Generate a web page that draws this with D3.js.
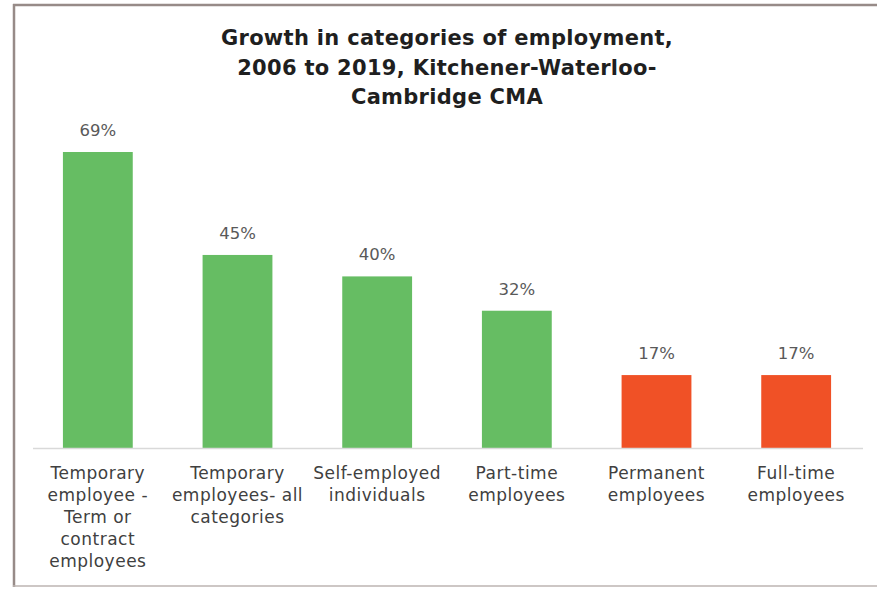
<!DOCTYPE html>
<html>
<head>
<meta charset="utf-8">
<script src="https://cdn.jsdelivr.net/npm/d3@7"></script>
<style>
  body { margin: 0; background: #fff; }
  svg { display: block; }
</style>
</head>
<body>
<svg id="chart"></svg>
<script>
// data
const categories = [
  "Temporary employee - Term or contract employees",
  "Temporary employees- all categories",
  "Self-employed individuals",
  "Part-time employees",
  "Permanent employees",
  "Full-time employees"
];
const labelLines = [
  ["Temporary", "employee -", "Term or", "contract", "employees"],
  ["Temporary", "employees- all", "categories"],
  ["Self-employed", "individuals"],
  ["Part-time", "employees"],
  ["Permanent", "employees"],
  ["Full-time", "employees"]
];
const growth = [69, 45, 40, 32, 17, 17];
const barColors = ["#66bd63", "#66bd63", "#66bd63", "#66bd63", "#f05126", "#f05126"];
const titleLines = [
  "Growth in categories of employment,",
  "2006 to 2019, Kitchener-Waterloo-",
  "Cambridge CMA"
];

const totalWidth = 877;
const totalHeight = 589;
const font = "'DejaVu Sans', sans-serif";

const svg = d3.select("#chart")
  .attr("width", totalWidth)
  .attr("height", totalHeight);

// frame
svg.append("line").attr("x1", 13).attr("x2", totalWidth).attr("y1", 5).attr("y2", 5)
  .style("stroke", "#978b88").style("stroke-width", 2.5);
svg.append("line").attr("x1", 14).attr("x2", 14).attr("y1", 4).attr("y2", 587)
  .style("stroke", "#978b88").style("stroke-width", 2.5);
svg.append("line").attr("x1", 13).attr("x2", totalWidth).attr("y1", 586).attr("y2", 586)
  .style("stroke", "#bdb5b2").style("stroke-width", 1.5);

// title
svg.append("text")
  .attr("text-anchor", "middle")
  .style("font-family", font)
  .style("font-weight", "bold")
  .style("font-size", "21px")
  .style("letter-spacing", "0.3px")
  .style("fill", "#1f1f1f")
  .selectAll("tspan")
  .data(titleLines)
  .enter().append("tspan")
  .attr("x", 447)
  .attr("y", (d, i) => 45 + i * 29.5)
  .text(d => d);

const xScale = d3.scaleBand()
  .domain(categories)
  .range([28, 866])
  .paddingInner(0.5)
  .paddingOuter(0.25);

const yScale = d3.scaleLinear()
  .domain([0, 69])
  .range([448, 152]);

// bars
svg.selectAll("rect.bar")
  .data(growth)
  .enter().append("rect")
  .attr("class", "bar")
  .attr("x", (d, i) => xScale(categories[i]))
  .attr("y", d => yScale(d))
  .attr("width", xScale.bandwidth())
  .attr("height", d => yScale(0) - yScale(d))
  .style("fill", (d, i) => barColors[i]);

// baseline
svg.append("line")
  .attr("x1", 33).attr("x2", 863)
  .attr("y1", yScale(0) + 0.5).attr("y2", yScale(0) + 0.5)
  .style("stroke", "#d9d9d9")
  .style("stroke-width", 1.5);

// value labels
svg.selectAll("text.value")
  .data(growth)
  .enter().append("text")
  .attr("class", "value")
  .attr("text-anchor", "middle")
  .attr("x", (d, i) => xScale(categories[i]) + xScale.bandwidth() / 2)
  .attr("y", d => yScale(d) - 16)
  .text(d => d + "%")
  .style("font-family", font)
  .style("font-size", "16.5px")
  .style("fill", "#595959");

// category labels
const cat = svg.selectAll("text.cat")
  .data(labelLines)
  .enter().append("text")
  .attr("class", "cat")
  .attr("text-anchor", "middle")
  .style("font-family", font)
  .style("font-size", "17px")
  .style("letter-spacing", "0.5px")
  .style("fill", "#404040");

cat.each(function (lines, i) {
  const cx = xScale(categories[i]) + xScale.bandwidth() / 2;
  d3.select(this).selectAll("tspan")
    .data(lines)
    .enter().append("tspan")
    .attr("x", cx)
    .attr("y", (d, j) => 479 + j * 22)
    .text(d => d);
});
</script>
</body>
</html>
